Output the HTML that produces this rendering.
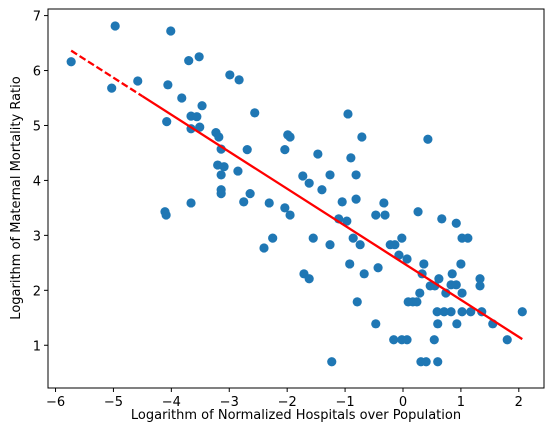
<!DOCTYPE html>
<html><head><meta charset="utf-8"><style>
html,body{margin:0;padding:0;background:#fff;}
svg{display:block;font-family:"DejaVu Sans","Liberation Sans",sans-serif;}
</style></head><body>
<svg id="chart" width="554" height="432" viewBox="0 0 554 432">
<rect x="0" y="0" width="554" height="432" fill="#fff"/>
<g id="plot"></g>
<g id="axes"></g>
<text x="296" y="419" font-size="13" text-anchor="middle" fill="#000">Logarithm of Normalized Hospitals over Population</text>
<text transform="translate(20,198) rotate(-90)" font-size="13" text-anchor="middle" fill="#000">Logarithm of Maternal Mortality Ratio</text>
</svg>
<script>
const xValues = [-5.73,-4.97,-4.01,-3.70,-3.52,-2.99,-2.83,-5.03,-4.58,-4.06,-3.82,-3.47,-3.66,-3.56,-4.08,-3.66,-3.51,-2.56,-3.23,-3.18,-3.14,-2.69,-1.99,-1.95,-2.04,-3.20,-3.09,-3.14,-2.85,-3.14,-3.14,-2.64,-2.75,-3.66,-4.11,-4.09,-2.31,-1.95,-2.04,-2.40,-2.25,-0.95,-0.71,0.43,-1.47,-0.90,-1.73,-1.62,-1.26,-0.81,-1.40,-1.05,-0.81,-0.33,-1.11,-0.97,-0.47,-0.31,0.26,0.67,0.92,-1.55,-1.26,-0.86,-0.74,-0.22,-0.14,-0.02,1.02,1.12,-0.07,0.07,-0.92,0.36,1.00,-1.71,-1.62,-0.67,-0.43,0.33,0.62,0.85,0.47,0.55,0.83,0.92,1.33,1.33,0.74,1.02,0.29,0.09,0.17,0.24,-0.79,0.59,0.71,0.83,1.02,1.17,1.36,2.06,-0.47,0.60,0.93,1.55,-0.16,-0.02,0.07,0.54,1.80,-1.23,0.31,0.40,0.60];
const yValues = [6.16,6.81,6.72,6.18,6.25,5.92,5.83,5.68,5.81,5.74,5.50,5.36,5.17,5.16,5.07,4.94,4.97,5.23,4.87,4.79,4.57,4.56,4.83,4.79,4.56,4.28,4.25,4.10,4.17,3.83,3.76,3.76,3.61,3.59,3.43,3.37,3.59,3.37,3.50,2.77,2.95,5.21,4.79,4.75,4.48,4.41,4.08,3.95,4.10,4.10,3.83,3.61,3.66,3.59,3.30,3.26,3.37,3.37,3.43,3.30,3.22,2.95,2.83,2.95,2.83,2.83,2.83,2.95,2.95,2.95,2.64,2.57,2.48,2.48,2.48,2.30,2.21,2.30,2.41,2.30,2.21,2.30,2.08,2.08,2.10,2.10,2.21,2.08,1.95,1.95,1.95,1.79,1.79,1.79,1.79,1.61,1.61,1.61,1.61,1.61,1.61,1.61,1.39,1.39,1.39,1.39,1.10,1.10,1.10,1.10,1.10,0.70,0.70,0.70,0.70];
const fitLine = [-0.674, 2.50];
const xTicks = [-6,-5,-4,-3,-2,-1,0,1,2];
const yTicks = [1,2,3,4,5,6,7];

const NS = "http://www.w3.org/2000/svg";
const L=48, R=544, T=9, B=388;
const xMin=-6.13, xMax=2.435, yMin=0.222, yMax=7.12;
function sx(v){return L+(v-xMin)/(xMax-xMin)*(R-L);}
function sy(v){return B-(v-yMin)/(yMax-yMin)*(B-T);}
function mk(tag,attrs,parent){const e=document.createElementNS(NS,tag);for(const k in attrs)e.setAttribute(k,attrs[k]);parent.appendChild(e);return e;}
const plot=document.getElementById('plot');
const axes=document.getElementById('axes');

for(let i=0;i<xValues.length;i++){
  const c=mk('circle',{cx:sx(xValues[i]),cy:sy(yValues[i]),r:4.6,fill:'#1f77b4'},plot);
  
  
}
const xs=xValues.slice().sort((a,b)=>a-b);
const x0=xs[0], x1=xs[xs.length-1];
const f=v=>fitLine[0]*v+fitLine[1];
const dashEnd=-4.5;
const l1=mk('line',{x1:sx(x0),y1:sy(f(x0)),x2:sx(dashEnd),y2:sy(f(dashEnd)),stroke:'#ff0000','stroke-width':2.3,'stroke-dasharray':'7,3'},plot);


const l2=mk('line',{x1:sx(dashEnd),y1:sy(f(dashEnd)),x2:sx(x1),y2:sy(f(x1)),stroke:'#ff0000','stroke-width':2.3},plot);



const frame=mk('rect',{x:L,y:T,width:R-L,height:B-T,fill:'none',stroke:'#000','stroke-width':1},axes);


xTicks.forEach(t=>{
  const x=sx(t);
  const tk=mk('line',{x1:x,y1:B,x2:x,y2:B+4,stroke:'#000','stroke-width':1},axes);
  
  
  const tx=mk('text',{x:x,y:B+18,'font-size':13,'text-anchor':'middle',fill:'#000'},axes);
  tx.textContent=(t<0?'\u2212'+(-t):String(t));
  
  
});
yTicks.forEach(t=>{
  const y=sy(t);
  const tk=mk('line',{x1:L-4,y1:y,x2:L,y2:y,stroke:'#000','stroke-width':1},axes);
  
  
  const tx=mk('text',{x:L-7,y:y+5,'font-size':13,'text-anchor':'end',fill:'#000'},axes);
  tx.textContent=String(t);
  
  
});
</script>
</body></html>
